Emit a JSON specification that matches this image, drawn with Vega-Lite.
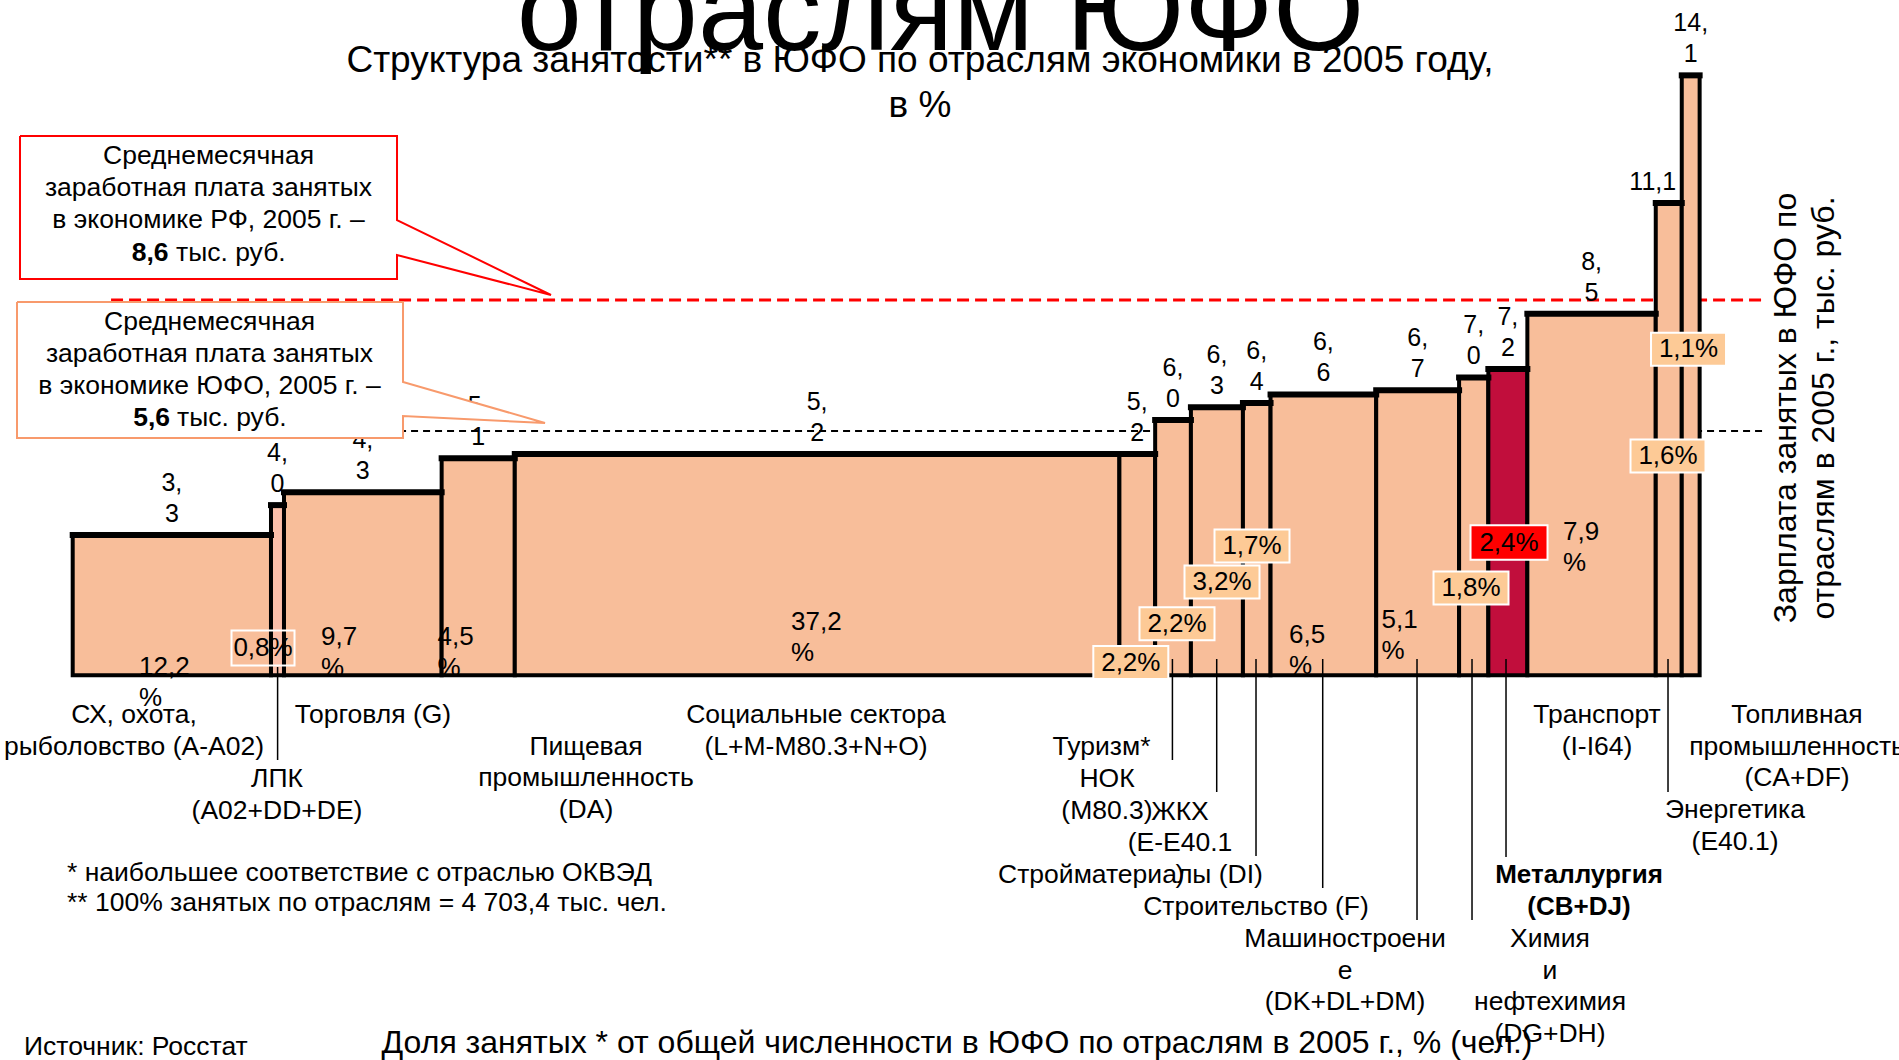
{
  "$schema": "https://vega.github.io/schema/vega-lite/v6.json",
  "width": 1899,
  "height": 1060,
  "padding": 0,
  "autosize": {"type": "none"},
  "background": "white",
  "config": {"view": {"stroke": null}, "text": {"font": "Liberation Sans", "color": "black"}},
  "datasets": {
    "bars": [
      {"name": "СХ", "share": 12.2, "salary": 3.3, "x0": 0, "x1": 12.2, "mid": 6.1, "sl": "3,\n3"},
      {"name": "ЛПК", "share": 0.8, "salary": 4.0, "x0": 12.2, "x1": 13.0, "mid": 12.6, "sl": "4,\n0"},
      {"name": "Торговля", "share": 9.7, "salary": 4.3, "x0": 13.0, "x1": 22.7, "mid": 17.85, "sl": "4,\n3"},
      {"name": "Пищевая", "share": 4.5, "salary": 5.1, "x0": 22.7, "x1": 27.2, "mid": 24.95, "sl": "5,\n1"},
      {"name": "Социальные", "share": 37.2, "salary": 5.2, "x0": 27.2, "x1": 64.4, "mid": 45.8, "sl": "5,\n2"},
      {"name": "Туризм", "share": 2.2, "salary": 5.2, "x0": 64.4, "x1": 66.6, "mid": 65.5, "sl": "5,\n2"},
      {"name": "НОК", "share": 2.2, "salary": 6.0, "x0": 66.6, "x1": 68.8, "mid": 67.7, "sl": "6,\n0"},
      {"name": "ЖКХ", "share": 3.2, "salary": 6.3, "x0": 68.8, "x1": 72.0, "mid": 70.4, "sl": "6,\n3"},
      {"name": "Стройматериалы", "share": 1.7, "salary": 6.4, "x0": 72.0, "x1": 73.7, "mid": 72.85, "sl": "6,\n4"},
      {"name": "Строительство", "share": 6.5, "salary": 6.6, "x0": 73.7, "x1": 80.2, "mid": 76.95, "sl": "6,\n6"},
      {"name": "Машиностроение", "share": 5.1, "salary": 6.7, "x0": 80.2, "x1": 85.3, "mid": 82.75, "sl": "6,\n7"},
      {"name": "Химия", "share": 1.8, "salary": 7.0, "x0": 85.3, "x1": 87.1, "mid": 86.2, "sl": "7,\n0"},
      {"name": "Металлургия", "share": 2.4, "salary": 7.2, "x0": 87.1, "x1": 89.5, "mid": 88.3, "sl": "7,\n2"},
      {"name": "Транспорт", "share": 7.9, "salary": 8.5, "x0": 89.5, "x1": 97.4, "mid": 93.45, "sl": "8,\n5"},
      {"name": "Энергетика", "share": 1.6, "salary": 11.1, "x0": 97.4, "x1": 99.0, "mid": 98.2, "sl": "11,1"},
      {"name": "Топливная", "share": 1.1, "salary": 14.1, "x0": 99.0, "x1": 100.1, "mid": 99.55, "sl": "14,\n1"}
    ],
    "refs": [
      {"k": "rf", "y": 8.82, "xa": 2.36, "xb": 103.94},
      {"k": "yufo", "y": 5.74, "xa": 2.36, "xb": 103.94}
    ],
    "pct": [
      {"t": "12,2\n%", "x": 4.079, "y": 0.203, "k": "plain"},
      {"t": "9,7\n%", "x": 15.277, "y": 0.907, "k": "plain"},
      {"t": "4,5\n%", "x": 22.451, "y": 0.907, "k": "plain"},
      {"t": "37,2\n%", "x": 44.195, "y": 1.26, "k": "plain"},
      {"t": "6,5\n%", "x": 74.835, "y": 0.947, "k": "plain"},
      {"t": "5,1\n%", "x": 80.527, "y": 1.3, "k": "plain"},
      {"t": "7,9\n%", "x": 91.694, "y": 3.375, "k": "plain"},
      {"t": "0,8%", "x": 11.709, "y": 0.642, "k": "outline"},
      {"t": "2,2%", "x": 65.102, "y": 0.301, "k": "box"},
      {"t": "2,2%", "x": 67.944, "y": 1.213, "k": "box"},
      {"t": "3,2%", "x": 70.713, "y": 2.193, "k": "box"},
      {"t": "1,7%", "x": 72.559, "y": 3.039, "k": "box"},
      {"t": "1,8%", "x": 86.034, "y": 2.052, "k": "box"},
      {"t": "2,4%", "x": 88.372, "y": 3.121, "k": "hl"},
      {"t": "1,6%", "x": 98.154, "y": 5.154, "k": "box"},
      {"t": "1,1%", "x": 99.416, "y": 7.662, "k": "box"}
    ],
    "cats": [
      {"t": "СХ, охота,\nрыболовство (A-A02)", "x": 3.772, "y": -0.933, "b": false},
      {"t": "ЛПК\n(A02+DD+DE)", "x": 12.57, "y": -2.437, "b": false},
      {"t": "Торговля (G)", "x": 18.477, "y": -0.933, "b": false},
      {"t": "Пищевая\nпромышленность\n(DA)", "x": 31.582, "y": -1.678, "b": false},
      {"t": "Социальные сектора\n(L+M-M80.3+N+O)", "x": 45.734, "y": -0.933, "b": false},
      {"t": "Туризм*", "x": 63.299, "y": -1.678, "b": false},
      {"t": "НОК\n(M80.3)", "x": 63.637, "y": -2.437, "b": false},
      {"t": "ЖКХ\n(E-E40.1\n)", "x": 68.129, "y": -3.206, "b": false},
      {"t": "Стройматериалы (DI)", "x": 65.083, "y": -4.693, "b": false},
      {"t": "Строительство (F)", "x": 72.805, "y": -5.438, "b": false},
      {"t": "Машиностроени\nе\n(DK+DL+DM)", "x": 78.281, "y": -6.197, "b": false},
      {"t": "Металлургия\n(CB+DJ)", "x": 92.678, "y": -4.693, "b": true},
      {"t": "Химия\nи\nнефтехимия\n(DG+DH)", "x": 90.894, "y": -6.197, "b": false},
      {"t": "Транспорт\n(I-I64)", "x": 93.786, "y": -0.933, "b": false},
      {"t": "Энергетика\n(E40.1)", "x": 102.276, "y": -3.166, "b": false},
      {"t": "Топливная\nпромышленность\n(CA+DF)", "x": 106.091, "y": -0.933, "b": false}
    ],
    "leaders": [
      {"x": 12.607, "y": 0.195, "y2": -1.991},
      {"x": 67.662, "y": 0.383, "y2": -1.991},
      {"x": 70.387, "y": 0.383, "y2": -2.743},
      {"x": 72.805, "y": 0.383, "y2": -4.247},
      {"x": 76.909, "y": 0.383, "y2": -4.999},
      {"x": 82.711, "y": 0.383, "y2": -5.751},
      {"x": 86.095, "y": 0.383, "y2": -5.751},
      {"x": 88.187, "y": 0.383, "y2": -4.27},
      {"x": 98.154, "y": 0.383, "y2": -2.743}
    ],
    "callouts": [
      {"c": "rf", "i": 0, "x": -3.2425, "y": 12.674},
      {"c": "rf", "i": 1, "x": 19.954, "y": 12.674},
      {"c": "rf", "i": 2, "x": 19.954, "y": 10.7},
      {"c": "rf", "i": 3, "x": 29.428, "y": 8.938},
      {"c": "rf", "i": 4, "x": 19.954, "y": 9.878},
      {"c": "rf", "i": 5, "x": 19.954, "y": 9.314},
      {"c": "rf", "i": 6, "x": -3.2425, "y": 9.314},
      {"c": "rf", "i": 7, "x": -3.2425, "y": 12.674},
      {"c": "yufo", "i": 0, "x": -3.427, "y": 8.773},
      {"c": "yufo", "i": 1, "x": 20.323, "y": 8.773},
      {"c": "yufo", "i": 2, "x": 20.323, "y": 6.893},
      {"c": "yufo", "i": 3, "x": 29.06, "y": 5.93},
      {"c": "yufo", "i": 4, "x": 20.323, "y": 6.094},
      {"c": "yufo", "i": 5, "x": 20.323, "y": 5.577},
      {"c": "yufo", "i": 6, "x": -3.427, "y": 5.577},
      {"c": "yufo", "i": 7, "x": -3.427, "y": 8.773}
    ],
    "notes": [
      {"k": "big", "t": "отраслям ЮФО", "x": 53.393, "y": 14.695},
      {"k": "sub", "t": "Структура занятости** в ЮФО по отраслям экономики в 2005 году,\nв %", "x": 52.133, "y": 14.437},
      {"k": "call", "t": "Среднемесячная\nзаработная плата занятых\nв экономике РФ, 2005 г. –", "x": 8.355, "y": 12.204},
      {"k": "call", "t": "Среднемесячная\nзаработная плата занятых\nв экономике ЮФО, 2005 г. –", "x": 8.417, "y": 8.303},
      {"k": "callb", "t": "8,6", "x": 5.894, "y": 9.925},
      {"k": "callb", "t": "5,6", "x": 5.987, "y": 6.047},
      {"k": "calln", "t": "тыс. руб.", "x": 6.356, "y": 9.925},
      {"k": "calln", "t": "тыс. руб.", "x": 6.417, "y": 6.047},
      {"k": "foot", "t": "* наибольшее соответствие с отраслью ОКВЭД\n** 100% занятых по отраслям = 4 703,4 тыс. чел.", "x": -0.351, "y": -4.653},
      {"k": "src", "t": "Источник: Росстат", "x": -2.996, "y": -8.736},
      {"k": "xt", "t": "Доля занятых * от общей численности в ЮФО по отраслям в 2005 г., % (чел.)", "x": 54.408, "y": -8.642},
      {"k": "yt", "t": "Зарплата занятых в ЮФО по\nотраслям в 2005 г., тыс. руб.", "x": 106.031, "y": 6.282}
    ]
  },
  "layer": [
    {
      "data": {"name": "refs"},
      "transform": [{"filter": "datum.k === 'rf'"}],
      "mark": {"type": "rule", "color": "#FF0000", "strokeWidth": 3, "strokeDash": [12, 6]},
      "encoding": {
        "x": {"field": "xa", "type": "quantitative", "scale": {"domain": [-4.473, 112.366], "nice": false, "zero": false}, "axis": null},
        "x2": {"field": "xb"},
        "y": {"field": "y", "type": "quantitative", "scale": {"domain": [-9.041, 15.871], "nice": false, "zero": false}, "axis": null}
      }
    },
    {
      "data": {"name": "refs"},
      "transform": [{"filter": "datum.k === 'yufo'"}],
      "mark": {"type": "rule", "color": "black", "strokeWidth": 2, "strokeDash": [7, 5]},
      "encoding": {
        "x": {"field": "xa", "type": "quantitative", "scale": {"domain": [-4.473, 112.366], "nice": false, "zero": false}, "axis": null},
        "x2": {"field": "xb"},
        "y": {"field": "y", "type": "quantitative", "scale": {"domain": [-9.041, 15.871], "nice": false, "zero": false}, "axis": null}
      }
    },
    {
      "data": {"name": "bars"},
      "mark": {"type": "rect", "stroke": "black", "strokeWidth": 4},
      "encoding": {
        "x": {"field": "x0", "type": "quantitative", "scale": {"domain": [-4.473, 112.366], "nice": false, "zero": false}, "axis": null},
        "x2": {"field": "x1"},
        "y": {"field": "salary", "type": "quantitative", "scale": {"domain": [-9.041, 15.871], "nice": false, "zero": false}, "axis": null},
        "y2": {"datum": 0},
        "fill": {"condition": [{"test": "datum.name === 'Металлургия'", "value": "#C10E3C"}, {"test": "datum.name === 'ЛПК'", "value": "#FBBFA9"}], "value": "#F8BE9A"}
      }
    },
    {
      "data": {"name": "bars"},
      "mark": {"type": "rule", "color": "black", "strokeWidth": 6, "strokeCap": "square"},
      "encoding": {
        "x": {"field": "x0", "type": "quantitative", "scale": {"domain": [-4.473, 112.366], "nice": false, "zero": false}, "axis": null},
        "x2": {"field": "x1"},
        "y": {"field": "salary", "type": "quantitative", "scale": {"domain": [-9.041, 15.871], "nice": false, "zero": false}, "axis": null}
      }
    },
    {
      "data": {"name": "leaders"},
      "mark": {"type": "rule", "color": "black", "strokeWidth": 1.5},
      "encoding": {
        "x": {"field": "x", "type": "quantitative", "scale": {"domain": [-4.473, 112.366], "nice": false, "zero": false}, "axis": null},
        "y": {"field": "y", "type": "quantitative", "scale": {"domain": [-9.041, 15.871], "nice": false, "zero": false}, "axis": null},
        "y2": {"field": "y2"}
      }
    },
    {
      "data": {"name": "bars"},
      "transform": [{"filter": "datum.name !== 'Энергетика'"}],
      "mark": {"type": "text", "fontSize": 25, "align": "center", "baseline": "middle", "lineBreak": "\n", "lineHeight": 31, "dy": -52},
      "encoding": {
        "x": {"field": "mid", "type": "quantitative", "scale": {"domain": [-4.473, 112.366], "nice": false, "zero": false}, "axis": null},
        "y": {"field": "salary", "type": "quantitative", "scale": {"domain": [-9.041, 15.871], "nice": false, "zero": false}, "axis": null},
        "text": {"field": "sl"}
      }
    },
    {
      "data": {"name": "bars"},
      "transform": [{"filter": "datum.name === 'Энергетика'"}],
      "mark": {"type": "text", "fontSize": 25, "align": "center", "baseline": "middle", "dy": -21, "dx": -16},
      "encoding": {
        "x": {"field": "mid", "type": "quantitative", "scale": {"domain": [-4.473, 112.366], "nice": false, "zero": false}, "axis": null},
        "y": {"field": "salary", "type": "quantitative", "scale": {"domain": [-9.041, 15.871], "nice": false, "zero": false}, "axis": null},
        "text": {"field": "sl"}
      }
    },
    {
      "data": {"name": "pct"},
      "transform": [{"filter": "datum.k === 'box'"}],
      "mark": {"type": "point", "shape": "M-1,-0.44L1,-0.44L1,0.44L-1,0.44Z", "size": 5625, "filled": true, "fill": "#FDCA96", "stroke": "white", "strokeWidth": 2, "opacity": 1, "fillOpacity": 1, "strokeOpacity": 1},
      "encoding": {
        "x": {"field": "x", "type": "quantitative", "scale": {"domain": [-4.473, 112.366], "nice": false, "zero": false}, "axis": null},
        "y": {"field": "y", "type": "quantitative", "scale": {"domain": [-9.041, 15.871], "nice": false, "zero": false}, "axis": null}
      }
    },
    {
      "data": {"name": "pct"},
      "transform": [{"filter": "datum.k === 'hl'"}],
      "mark": {"type": "point", "shape": "M-1,-0.45L1,-0.45L1,0.45L-1,0.45Z", "size": 5929, "filled": true, "fill": "#FF0000", "stroke": "white", "strokeWidth": 2, "opacity": 1, "fillOpacity": 1, "strokeOpacity": 1},
      "encoding": {
        "x": {"field": "x", "type": "quantitative", "scale": {"domain": [-4.473, 112.366], "nice": false, "zero": false}, "axis": null},
        "y": {"field": "y", "type": "quantitative", "scale": {"domain": [-9.041, 15.871], "nice": false, "zero": false}, "axis": null}
      }
    },
    {
      "data": {"name": "pct"},
      "transform": [{"filter": "datum.k === 'outline'"}],
      "mark": {"type": "point", "shape": "M-1,-0.556L1,-0.556L1,0.556L-1,0.556Z", "size": 3969, "filled": false, "stroke": "white", "strokeWidth": 2, "opacity": 1, "strokeOpacity": 1},
      "encoding": {
        "x": {"field": "x", "type": "quantitative", "scale": {"domain": [-4.473, 112.366], "nice": false, "zero": false}, "axis": null},
        "y": {"field": "y", "type": "quantitative", "scale": {"domain": [-9.041, 15.871], "nice": false, "zero": false}, "axis": null}
      }
    },
    {
      "data": {"name": "pct"},
      "transform": [{"filter": "datum.k !== 'plain'"}],
      "mark": {"type": "text", "fontSize": 26, "align": "center", "baseline": "middle"},
      "encoding": {
        "x": {"field": "x", "type": "quantitative", "scale": {"domain": [-4.473, 112.366], "nice": false, "zero": false}, "axis": null},
        "y": {"field": "y", "type": "quantitative", "scale": {"domain": [-9.041, 15.871], "nice": false, "zero": false}, "axis": null},
        "text": {"field": "t"}
      }
    },
    {
      "data": {"name": "pct"},
      "transform": [{"filter": "datum.k === 'plain'"}],
      "mark": {"type": "text", "fontSize": 26, "align": "left", "baseline": "middle", "lineBreak": "\n", "lineHeight": 31},
      "encoding": {
        "x": {"field": "x", "type": "quantitative", "scale": {"domain": [-4.473, 112.366], "nice": false, "zero": false}, "axis": null},
        "y": {"field": "y", "type": "quantitative", "scale": {"domain": [-9.041, 15.871], "nice": false, "zero": false}, "axis": null},
        "text": {"field": "t"}
      }
    },
    {
      "data": {"name": "cats"},
      "transform": [{"filter": "!datum.b"}],
      "mark": {"type": "text", "fontSize": 26.5, "align": "center", "baseline": "middle", "lineBreak": "\n", "lineHeight": 31.6},
      "encoding": {
        "x": {"field": "x", "type": "quantitative", "scale": {"domain": [-4.473, 112.366], "nice": false, "zero": false}, "axis": null},
        "y": {"field": "y", "type": "quantitative", "scale": {"domain": [-9.041, 15.871], "nice": false, "zero": false}, "axis": null},
        "text": {"field": "t"}
      }
    },
    {
      "data": {"name": "cats"},
      "transform": [{"filter": "datum.b"}],
      "mark": {"type": "text", "fontSize": 26, "fontWeight": "bold", "align": "center", "baseline": "middle", "lineBreak": "\n", "lineHeight": 31.6},
      "encoding": {
        "x": {"field": "x", "type": "quantitative", "scale": {"domain": [-4.473, 112.366], "nice": false, "zero": false}, "axis": null},
        "y": {"field": "y", "type": "quantitative", "scale": {"domain": [-9.041, 15.871], "nice": false, "zero": false}, "axis": null},
        "text": {"field": "t"}
      }
    },
    {
      "data": {"name": "callouts"},
      "mark": {"type": "line", "fill": "white", "strokeWidth": 2, "interpolate": "linear"},
      "encoding": {
        "x": {"field": "x", "type": "quantitative", "scale": {"domain": [-4.473, 112.366], "nice": false, "zero": false}, "axis": null},
        "y": {"field": "y", "type": "quantitative", "scale": {"domain": [-9.041, 15.871], "nice": false, "zero": false}, "axis": null},
        "order": {"field": "i", "type": "quantitative"},
        "stroke": {"field": "c", "type": "nominal", "scale": {"domain": ["rf", "yufo"], "range": ["#FF0000", "#F89A6C"]}, "legend": null}
      }
    },
    {
      "data": {"name": "notes"},
      "transform": [{"filter": "datum.k === 'call'"}],
      "mark": {"type": "text", "fontSize": 26.5, "align": "center", "baseline": "middle", "lineBreak": "\n", "lineHeight": 32},
      "encoding": {
        "x": {"field": "x", "type": "quantitative", "scale": {"domain": [-4.473, 112.366], "nice": false, "zero": false}, "axis": null},
        "y": {"field": "y", "type": "quantitative", "scale": {"domain": [-9.041, 15.871], "nice": false, "zero": false}, "axis": null},
        "text": {"field": "t"}
      }
    },
    {
      "data": {"name": "notes"},
      "transform": [{"filter": "datum.k === 'callb'"}],
      "mark": {"type": "text", "fontSize": 26.5, "fontWeight": "bold", "align": "right", "baseline": "middle"},
      "encoding": {
        "x": {"field": "x", "type": "quantitative", "scale": {"domain": [-4.473, 112.366], "nice": false, "zero": false}, "axis": null},
        "y": {"field": "y", "type": "quantitative", "scale": {"domain": [-9.041, 15.871], "nice": false, "zero": false}, "axis": null},
        "text": {"field": "t"}
      }
    },
    {
      "data": {"name": "notes"},
      "transform": [{"filter": "datum.k === 'calln'"}],
      "mark": {"type": "text", "fontSize": 26.5, "align": "left", "baseline": "middle"},
      "encoding": {
        "x": {"field": "x", "type": "quantitative", "scale": {"domain": [-4.473, 112.366], "nice": false, "zero": false}, "axis": null},
        "y": {"field": "y", "type": "quantitative", "scale": {"domain": [-9.041, 15.871], "nice": false, "zero": false}, "axis": null},
        "text": {"field": "t"}
      }
    },
    {
      "data": {"name": "notes"},
      "transform": [{"filter": "datum.k === 'big'"}],
      "mark": {"type": "text", "fontSize": 117, "align": "center", "baseline": "alphabetic"},
      "encoding": {
        "x": {"field": "x", "type": "quantitative", "scale": {"domain": [-4.473, 112.366], "nice": false, "zero": false}, "axis": null},
        "y": {"field": "y", "type": "quantitative", "scale": {"domain": [-9.041, 15.871], "nice": false, "zero": false}, "axis": null},
        "text": {"field": "t"}
      }
    },
    {
      "data": {"name": "notes"},
      "transform": [{"filter": "datum.k === 'sub'"}],
      "mark": {"type": "text", "fontSize": 37, "align": "center", "baseline": "middle", "lineBreak": "\n", "lineHeight": 45},
      "encoding": {
        "x": {"field": "x", "type": "quantitative", "scale": {"domain": [-4.473, 112.366], "nice": false, "zero": false}, "axis": null},
        "y": {"field": "y", "type": "quantitative", "scale": {"domain": [-9.041, 15.871], "nice": false, "zero": false}, "axis": null},
        "text": {"field": "t"}
      }
    },
    {
      "data": {"name": "notes"},
      "transform": [{"filter": "datum.k === 'foot'"}],
      "mark": {"type": "text", "fontSize": 26.5, "align": "left", "baseline": "middle", "lineBreak": "\n", "lineHeight": 30},
      "encoding": {
        "x": {"field": "x", "type": "quantitative", "scale": {"domain": [-4.473, 112.366], "nice": false, "zero": false}, "axis": null},
        "y": {"field": "y", "type": "quantitative", "scale": {"domain": [-9.041, 15.871], "nice": false, "zero": false}, "axis": null},
        "text": {"field": "t"}
      }
    },
    {
      "data": {"name": "notes"},
      "transform": [{"filter": "datum.k === 'src'"}],
      "mark": {"type": "text", "fontSize": 26.5, "align": "left", "baseline": "middle"},
      "encoding": {
        "x": {"field": "x", "type": "quantitative", "scale": {"domain": [-4.473, 112.366], "nice": false, "zero": false}, "axis": null},
        "y": {"field": "y", "type": "quantitative", "scale": {"domain": [-9.041, 15.871], "nice": false, "zero": false}, "axis": null},
        "text": {"field": "t"}
      }
    },
    {
      "data": {"name": "notes"},
      "transform": [{"filter": "datum.k === 'xt'"}],
      "mark": {"type": "text", "fontSize": 32, "align": "center", "baseline": "middle"},
      "encoding": {
        "x": {"field": "x", "type": "quantitative", "scale": {"domain": [-4.473, 112.366], "nice": false, "zero": false}, "axis": null},
        "y": {"field": "y", "type": "quantitative", "scale": {"domain": [-9.041, 15.871], "nice": false, "zero": false}, "axis": null},
        "text": {"field": "t"}
      }
    },
    {
      "data": {"name": "notes"},
      "transform": [{"filter": "datum.k === 'yt'"}],
      "mark": {"type": "text", "fontSize": 32, "angle": 270, "align": "center", "baseline": "alphabetic", "lineBreak": "\n", "lineHeight": 38},
      "encoding": {
        "x": {"field": "x", "type": "quantitative", "scale": {"domain": [-4.473, 112.366], "nice": false, "zero": false}, "axis": null},
        "y": {"field": "y", "type": "quantitative", "scale": {"domain": [-9.041, 15.871], "nice": false, "zero": false}, "axis": null},
        "text": {"field": "t"}
      }
    }
  ]
}
